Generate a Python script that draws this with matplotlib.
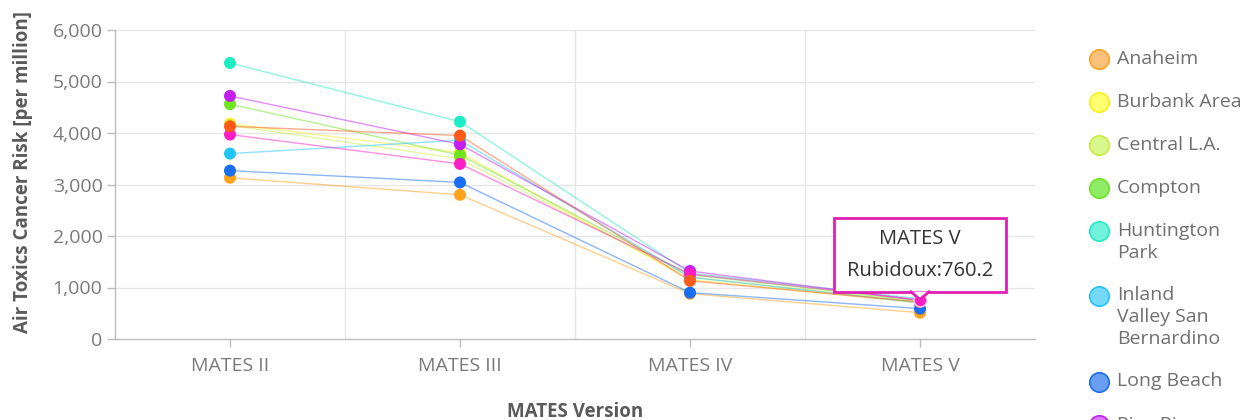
"""
plot.py

Air toxics cancer risk by MATES version for monitoring sites,
with a hover-style tooltip on Rubidoux / MATES V.
"""

import matplotlib
matplotlib.use("Agg")
import matplotlib.pyplot as plt
import matplotlib.ticker as mticker
import matplotlib.transforms as mtransforms
from matplotlib.lines import Line2D
from matplotlib.patches import Polygon, Rectangle

plt.rcParams["font.family"] = ["Open Sans", "DejaVu Sans"]

# --- data ---
versions = ["MATES II", "MATES III", "MATES IV", "MATES V"]

anaheim = [3130, 2800, 880, 510]
burbank = [4180, 3620, 1150, 700]
central_la = [4150, 3500, 1200, 720]
compton = [4560, 3570, 1250, 740]
huntington_park = [5360, 4220, 1280, 780]
inland_valley = [3600, 3860, 1200, 700]
long_beach = [3270, 3040, 900, 590]
pico_rivera = [4720, 3780, 1320, 750]
rubidoux = [3970, 3400, 1260, 760.2]
west_long_beach = [4130, 3950, 1130, 720]

site_names = [
    "Anaheim", "Burbank Area", "Central L.A.", "Compton", "Huntington\nPark",
    "Inland\nValley San\nBernardino", "Long Beach", "Pico Rivera",
    "Rubidoux", "West Long Beach",
]
site_values = [
    anaheim, burbank, central_la, compton, huntington_park,
    inland_valley, long_beach, pico_rivera, rubidoux, west_long_beach,
]
site_colors = [
    "#ffa21c", "#ffec1a", "#c8ef3c", "#6ee61e", "#1eecc4",
    "#22c6f6", "#1a6ef0", "#c41ef2", "#ff1ec6", "#ff5a1a",
]
legend_fill = [
    "#f9c17c", "#ffff70", "#d8f78c", "#8fec68", "#72f2da",
    "#74d8f6", "#6a9ef0", "#d878f2", "#f878d8", "#ff9a70",
]

TIP_SITE = "Rubidoux"
TIP_IDX = 3

W, H = 1247, 420
fig = plt.figure(figsize=(W / 100, H / 100), dpi=100)
ax = fig.add_axes([115 / W, 1 - 339 / H, 920 / W, 309 / H])

x = list(range(len(versions)))
for vals, col in zip(site_values, site_colors):
    ax.plot(x, vals, color=col, linewidth=1.0, alpha=0.5, zorder=2)
for vals, col in zip(site_values, site_colors):
    ax.scatter(x, vals, s=75, color=col, edgecolors="none", zorder=3)

ax.set_xlim(-0.5, 3.5)
ax.set_ylim(0, 6000)
ax.set_xticks(x)
ax.set_xticklabels(versions)
ax.set_yticks(range(0, 6001, 1000))
ax.yaxis.set_major_formatter(mticker.FuncFormatter(lambda v, p: f"{int(v):,}"))

# gridlines: horizontal at ticks, vertical between categories
for v in range(1000, 6001, 1000):
    ax.axhline(v, color="#e6e6e6", linewidth=0.9, zorder=0)
for b in [0.5, 1.5, 2.5]:
    ax.axvline(b, color="#e6e6e6", linewidth=0.9, zorder=0)

for s in ["top", "right"]:
    ax.spines[s].set_visible(False)
for s in ["left", "bottom"]:
    ax.spines[s].set_color("#bdbdbd")
    ax.spines[s].set_linewidth(1.0)

ax.tick_params(axis="both", colors="#bdbdbd", length=6, width=1.0,
               labelsize=14, labelcolor="#7a7a7a")
ax.tick_params(axis="x", pad=7)
ax.tick_params(axis="y", pad=3)

ax.set_ylabel("Air Toxics Cancer Risk [per million]", fontsize=13.5,
              fontweight="bold", color="#5a5a5a")
ax.yaxis.set_label_coords(-0.089, 0.54)
ax.set_xlabel("MATES Version", fontsize=13.5, fontweight="bold",
              color="#5a5a5a")
ax.xaxis.set_label_coords(0.5, -0.204)

# --- tooltip (box geometry in inches relative to the hovered point) ---
tip_val = site_values[site_names.index(TIP_SITE)][TIP_IDX]
tip_col = "#e020b4"
ax.scatter([TIP_IDX], [tip_val], s=85, color=site_colors[8],
           edgecolors="#ffd0f0", linewidths=1.0, zorder=5)
tip_trans = fig.dpi_scale_trans + mtransforms.ScaledTranslation(
    TIP_IDX, tip_val, ax.transData)
ax.add_patch(Rectangle((-0.86, 0.08), 1.72, 0.74, transform=tip_trans,
                       facecolor="white", edgecolor=tip_col, linewidth=2.0,
                       zorder=6, clip_on=False))
ax.add_patch(Polygon([(-0.08, 0.082), (0.08, 0.082), (0.0, 0.01)], closed=True,
                     transform=tip_trans, facecolor="white", edgecolor="none",
                     zorder=7, clip_on=False))
ax.add_line(Line2D([-0.09, 0.0, 0.09], [0.08, 0.005, 0.08], color=tip_col,
                   linewidth=2.0, transform=tip_trans, zorder=8, clip_on=False))
ax.text(0, 0.61, versions[TIP_IDX], transform=tip_trans, ha="center",
        va="center", fontsize=14.5, color="#333333", zorder=9)
ax.text(0, 0.29, f"{TIP_SITE}:{tip_val}", transform=tip_trans, ha="center",
        va="center", fontsize=14.5, color="#333333", zorder=9)

# --- legend, laid out by hand to match the line rhythm of the original ---
line_h = 21.5
y_px = 59.0
for name, fc, ec in zip(site_names, legend_fill, site_colors):
    lines = name.split("\n")
    fig.add_artist(Line2D([1099 / W], [1 - y_px / H], marker="o",
                          markersize=14, markerfacecolor=fc,
                          markeredgecolor=ec, markeredgewidth=1.2,
                          linestyle="none", transform=fig.transFigure))
    for i, ln in enumerate(lines):
        fig.text(1117 / W, 1 - (y_px + i * line_h) / H, ln, ha="left",
                 va="center", fontsize=14, color="#707070")
    y_px += line_h * (len(lines) + 1)

fig.savefig("out.png", dpi=100)
